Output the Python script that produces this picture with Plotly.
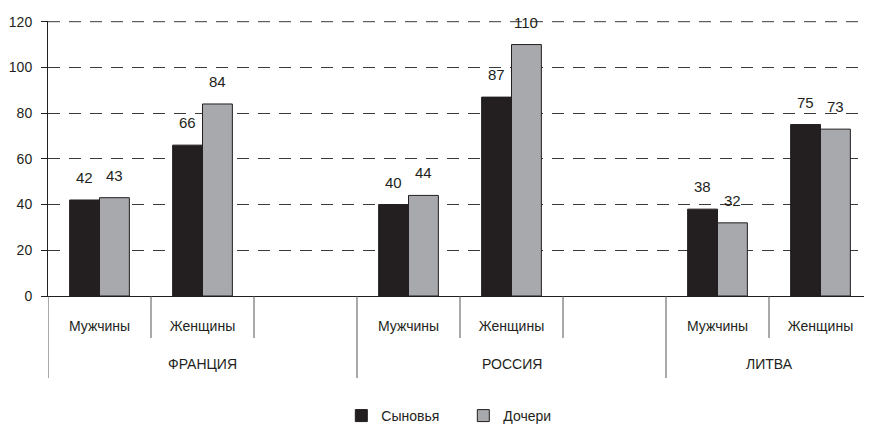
import plotly.graph_objects as go

countries = ["ФРАНЦИЯ", "ФРАНЦИЯ", "ФРАНЦИЯ", "РОССИЯ", "РОССИЯ", "РОССИЯ", "ЛИТВА", "ЛИТВА"]
groups = ["Мужчины", "Женщины", "", "Мужчины", "Женщины", "", "Мужчины", "Женщины"]
sons = [42, 66, None, 40, 87, None, 38, 75]
daughters = [43, 84, None, 44, 110, None, 32, 73]
y_ticks = [0, 20, 40, 60, 80, 100, 120]

FONT = "Liberation Sans Narrow, Arial Narrow, Liberation Sans, Arial, sans-serif"
TXT = "#231f20"
BLACK = "#231f20"
GRAY = "#a7a9ac"
SEP = "#555555"
GRID = "#3a3a3a"
GRIDDASH = "12px,9px"
BARGAP = 0.42

W, H = 864, 420
ML, MR, MT, MB = 40, 0, 13, 132
PH = H - MT - MB

idx = list(range(len(groups)))

fig = go.Figure()
fig.add_trace(go.Bar(x=idx, y=sons, name="Сыновья",
                     marker=dict(color=BLACK, line=dict(color=BLACK, width=1))))
fig.add_trace(go.Bar(x=idx, y=daughters, name="Дочери",
                     marker=dict(color=GRAY, line=dict(color=BLACK, width=1))))

w = (1 - BARGAP) / 2
annotations = []
for i, (s, d) in enumerate(zip(sons, daughters)):
    for val, off in ((s, -w / 2), (d, w / 2)):
        if val is None:
            continue
        annotations.append(dict(x=i + off, y=val, xref="x", yref="y", text=str(val),
                                showarrow=False, yanchor="bottom", yshift=12,
                                font=dict(family=FONT, size=15, color=TXT)))

# country labels and separators derived from category indices
shapes = []
inner_len = 42 / PH
outer_len = 82 / PH
for i in range(len(groups) + 1):
    b = i - 0.5
    is_outer = i == 0 or i == len(groups) or countries[i] != countries[i - 1]
    shapes.append(dict(type="line", xref="x", yref="paper", x0=b, x1=b, y0=0,
                       y1=-(outer_len if is_outer else inner_len),
                       line=dict(color=SEP, width=1)))
# top gridline (at the edge of the plot area)
shapes.append(dict(type="line", xref="paper", yref="y", x0=0, x1=1,
                   y0=y_ticks[-1], y1=y_ticks[-1], layer="below",
                   line=dict(color=GRID, width=1, dash=GRIDDASH)))
seen = []
for c in countries:
    if c not in seen:
        seen.append(c)
for c in seen:
    members = [i for i, cc in enumerate(countries) if cc == c]
    lo, hi = members[0] - 0.5, members[-1] + 0.5
    annotations.append(dict(x=(lo + hi) / 2, y=-68 / PH, xref="x", yref="paper",
                            text=c, showarrow=False, yanchor="middle",
                            font=dict(family=FONT, size=14, color=TXT)))

fig.update_layout(
    width=W, height=H,
    margin=dict(l=ML, r=MR, t=MT, b=MB, autoexpand=False),
    paper_bgcolor="white", plot_bgcolor="white",
    barmode="group", bargap=BARGAP, bargroupgap=0,
    font=dict(family=FONT, size=14, color=TXT),
    annotations=annotations, shapes=shapes,
    showlegend=True,
    legend=dict(orientation="h", xref="container", x=0.527, xanchor="center",
                yref="container", y=0.0286, yanchor="middle",
                font=dict(family=FONT, size=14, color=TXT),
                entrywidth=77, itemwidth=30),
)
fig.update_yaxes(range=[0, 120.3], tickvals=y_ticks, showgrid=True, gridcolor=GRID,
                 griddash=GRIDDASH, gridwidth=1, showline=True, linecolor=BLACK,
                 linewidth=1, ticks="outside", ticklen=6, tickcolor=BLACK,
                 ticklabelstandoff=6, automargin=False,
                 zeroline=False, tickfont=dict(family=FONT, size=14, color=TXT))
fig.update_xaxes(range=[-0.5, len(groups) - 0.5], tickvals=idx, ticktext=groups,
                 showgrid=False, showline=True, linecolor=BLACK, linewidth=1,
                 ticks="", ticklabelstandoff=17, automargin=False, zeroline=False,
                 tickfont=dict(family=FONT, size=14, color=TXT))

fig.write_html("out.html")
